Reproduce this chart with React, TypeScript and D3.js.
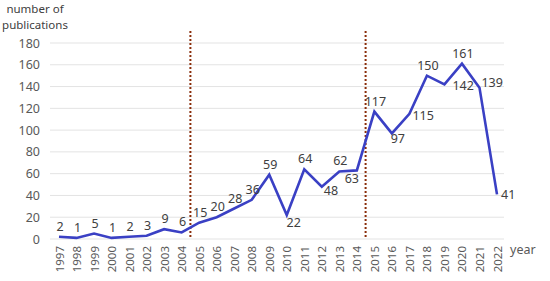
import React from "react";
import * as d3 from "d3";

const years = [
    1997, 1998, 1999, 2000, 2001, 2002, 2003, 2004, 2005, 2006, 2007, 2008, 2009,
    2010, 2011, 2012, 2013, 2014, 2015, 2016, 2017, 2018, 2019, 2020, 2021, 2022,
];
const publications = [
    2, 1, 5, 1, 2, 3, 9, 6, 15, 20, 28, 36, 59, 22, 64, 48, 62, 63, 117, 97, 115,
    150, 142, 161, 139, 41,
];
const yTicks = [0, 20, 40, 60, 80, 100, 120, 140, 160, 180];
// period boundaries, drawn between two years
const markers = [2004.5, 2014.5];
const titleLines = ["number of", "publications"];

// where each value label sits relative to its point
const labelPos: Record<number, [number, number, string]> = {
    2010: [7, 12, "middle"],
    2012: [2, 8, "start"],
    2014: [-5, 13, "middle"],
    2016: [6, 10, "middle"],
    2017: [3, 6, "start"],
    2019: [8, 6, "start"],
    2021: [2, -1, "start"],
    2022: [4, 5, "start"],
};

export default function App() {
    const ref = React.useRef<SVGSVGElement>(null);

    React.useEffect(() => {
        const width = 550;
        const height = 281;
        const font = "'Noto Sans', 'Open Sans', sans-serif";

        const x = d3.scaleLinear().domain([1997, 2022]).range([59, 497]);
        const y = d3.scaleLinear().domain([0, 180]).range([239, 43]);

        const svg = d3
            .select(ref.current)
            .attr("width", width)
            .attr("height", height)
            .attr("viewBox", [0, 0, width, height])
            .style("font-family", font);

        svg.append("rect").attr("width", width).attr("height", height).attr("fill", "white");

        // grid
        svg.append("g")
            .selectAll()
            .data(yTicks)
            .join("line")
            .attr("x1", 50)
            .attr("x2", 504)
            .attr("y1", (d) => y(d))
            .attr("y2", (d) => y(d))
            .attr("stroke", "#e3e3e3")
            .attr("stroke-width", 1);

        svg.append("g")
            .attr("transform", "translate(40,0)")
            .call(d3.axisLeft(y).tickValues(yTicks).tickSize(0).tickPadding(0))
            .call((g) => g.select(".domain").remove())
            .call((g) =>
                g.selectAll("text")
                    .attr("fill", "#595959")
                    .attr("font-size", 12.5)
                    .attr("font-family", font)
            );

        svg.append("g")
            .attr("transform", "translate(0,246)")
            .call(
                d3.axisBottom(x)
                    .tickValues(years)
                    .tickFormat(d3.format("d"))
                    .tickSize(0)
            )
            .call((g) => g.select(".domain").remove())
            .call((g) =>
                g.selectAll("text")
                    .attr("fill", "#595959")
                    .attr("font-size", 11.5)
                    .attr("font-family", font)
                    .attr("text-anchor", "end")
                    .attr("transform", "rotate(-90)")
                    .attr("x", 0)
                    .attr("y", 0)
                    .attr("dy", "0.35em")
            );

        // dotted period lines
        svg.append("g")
            .selectAll()
            .data(markers)
            .join("line")
            .attr("x1", (d) => x(d))
            .attr("x2", (d) => x(d))
            .attr("y1", 31)
            .attr("y2", y(0))
            .attr("stroke", "#8a2d0a")
            .attr("stroke-width", 2)
            .attr("stroke-dasharray", "2,2");

        const line = d3
            .line<number>()
            .x((d, i) => x(years[i]))
            .y((d) => y(d));

        svg.append("path")
            .datum(publications)
            .attr("fill", "none")
            .attr("stroke", "#3a40c4")
            .attr("stroke-width", 2.6)
            .attr("stroke-linejoin", "miter")
            .attr("d", line);

        svg.append("g")
            .selectAll()
            .data(publications)
            .join("text")
            .attr("x", (d, i) => x(years[i]) + (labelPos[years[i]]?.[0] ?? 1))
            .attr("y", (d, i) => y(d) + (labelPos[years[i]]?.[1] ?? -6))
            .attr("text-anchor", (d, i) => labelPos[years[i]]?.[2] ?? "middle")
            .attr("fill", "#404040")
            .attr("font-size", 12.5)
            .text((d) => d);

        svg.append("g")
            .selectAll()
            .data(titleLines)
            .join("text")
            .attr("x", 35)
            .attr("y", (d, i) => 13 + i * 16)
            .attr("text-anchor", "middle")
            .attr("fill", "#404040")
            .attr("font-size", 11.5)
            .text((d) => d);

        svg.append("text")
            .attr("x", 510)
            .attr("y", 254)
            .attr("fill", "#595959")
            .attr("font-size", 12.5)
            .text("year");

        return () => {
            svg.selectAll("*").remove();
        };
    }, []);

    return <svg ref={ref} style={{ position: "absolute", left: 0, top: 0 }}></svg>;
}
